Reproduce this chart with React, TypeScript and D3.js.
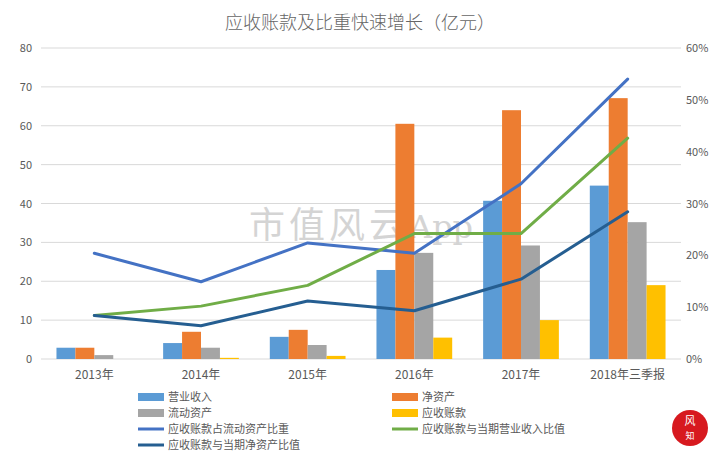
import { useEffect, useRef } from 'react'
import * as d3 from 'd3'

const categories = ['2013年', '2014年', '2015年', '2016年', '2017年', '2018年三季报']

const revenue = [2.9, 4.1, 5.7, 22.9, 40.7, 44.6] // 营业收入
const netAssets = [2.9, 7.0, 7.5, 60.5, 64.0, 67.1] // 净资产
const currentAssets = [1.0, 2.9, 3.6, 27.3, 29.2, 35.2] // 流动资产
const receivables = [0, 0.3, 0.8, 5.5, 10.0, 19.0] // 应收账款

const ratioCurrent = [0.204, 0.149, 0.224, 0.204, 0.338, 0.54] // 应收账款占流动资产比重
const ratioRevenue = [0.084, 0.102, 0.142, 0.242, 0.242, 0.426] // 应收账款与当期营业收入比值
const ratioNet = [0.084, 0.064, 0.112, 0.093, 0.154, 0.284] // 应收账款与当期净资产比值

const leftTicks = [0, 10, 20, 30, 40, 50, 60, 70, 80]
const rightTicks = [0, 0.1, 0.2, 0.3, 0.4, 0.5, 0.6]

const barSeries = [
  { name: '营业收入', values: revenue, color: '#5B9BD5' },
  { name: '净资产', values: netAssets, color: '#ED7D31' },
  { name: '流动资产', values: currentAssets, color: '#A5A5A5' },
  { name: '应收账款', values: receivables, color: '#FFC000' },
]

const lineSeries = [
  { name: '应收账款占流动资产比重', values: ratioCurrent, color: '#4472C4' },
  { name: '应收账款与当期营业收入比值', values: ratioRevenue, color: '#70AD47' },
  { name: '应收账款与当期净资产比值', values: ratioNet, color: '#255E91' },
]

// legend order as in the picture (two columns)
const legendItems = [
  { ...barSeries[0], kind: 'bar' },
  { ...barSeries[1], kind: 'bar' },
  { ...barSeries[2], kind: 'bar' },
  { ...barSeries[3], kind: 'bar' },
  { ...lineSeries[0], kind: 'line' },
  { ...lineSeries[1], kind: 'line' },
  { ...lineSeries[2], kind: 'line' },
]

const FONT = '"Noto Sans CJK SC", "Noto Sans", sans-serif'
const TEXT = '#595959'

export default function App() {
  const svgRef = useRef<SVGSVGElement>(null)

  useEffect(() => {
    document.body.style.margin = '0'
    const svg = d3.select(svgRef.current)
    svg.selectAll('*').remove()

    const W = 720
    const H = 454
    const left = 41
    const right = 681
    const top = 48
    const bottom = 359

    svg.attr('width', W).attr('height', H).style('display', 'block')
    svg.append('rect').attr('width', W).attr('height', H).attr('fill', '#fff')

    const x0 = d3.scaleBand<string>().domain(categories).range([left, right]).paddingInner(0.29).paddingOuter(0.145)
    const x1 = d3.scaleBand<string>().domain(barSeries.map((s) => s.name)).range([0, x0.bandwidth()])
    const yL = d3.scaleLinear().domain([0, 80]).range([bottom, top])
    const yR = d3.scaleLinear().domain([0, 0.6]).range([bottom, top])

    // Title
    svg.append('text')
      .attr('x', W / 2)
      .attr('y', 29)
      .attr('text-anchor', 'middle')
      .attr('fill', '#666')
      .style('font-family', FONT)
      .style('font-size', '18px')
      .style('font-weight', 300)
      .text('应收账款及比重快速增长（亿元）')

    // Grid lines
    svg.selectAll('.grid')
      .data(leftTicks)
      .enter()
      .append('line')
      .attr('x1', left)
      .attr('x2', right)
      .attr('y1', (d) => yL(d))
      .attr('y2', (d) => yL(d))
      .attr('stroke', '#d9d9d9')
      .attr('stroke-width', 1)

    // Left axis labels
    svg.selectAll('.ytl')
      .data(leftTicks)
      .enter()
      .append('text')
      .attr('x', 32)
      .attr('y', (d) => yL(d) + 4)
      .attr('text-anchor', 'end')
      .attr('fill', TEXT)
      .style('font-family', FONT)
      .style('font-size', '11px')
      .text((d) => `${d}`)

    // Right axis labels
    svg.selectAll('.ytr')
      .data(rightTicks)
      .enter()
      .append('text')
      .attr('x', 686)
      .attr('y', (d) => yR(d) + 4)
      .attr('fill', TEXT)
      .style('font-family', FONT)
      .style('font-size', '11px')
      .text((d) => d3.format('.0%')(d))

    // Watermark
    const wm = svg.append('text')
      .attr('x', 249)
      .attr('y', 238)
      .attr('fill', '#d4d4d4')
      .style('font-family', '"DejaVu Serif", "Noto Sans CJK SC", serif')
      .style('font-size', '36px')
    wm.append('tspan').attr('letter-spacing', '4px').text('市值风云')
    wm.append('tspan').style('font-size', '32px').text('App')

    // Bars
    barSeries.forEach((s) => {
      svg.selectAll(`.bar-${s.name}`)
        .data(s.values)
        .enter()
        .append('rect')
        .attr('x', (_, i) => (x0(categories[i]) ?? 0) + (x1(s.name) ?? 0))
        .attr('y', (d) => yL(d))
        .attr('width', x1.bandwidth())
        .attr('height', (d) => bottom - yL(d))
        .attr('fill', s.color)
    })

    // Lines
    const cx = (i: number) => (x0(categories[i]) ?? 0) + x0.bandwidth() / 2
    lineSeries.forEach((s) => {
      const lineGen = d3.line<number>().x((_, i) => cx(i)).y((d) => yR(d))
      svg.append('path')
        .datum(s.values)
        .attr('fill', 'none')
        .attr('stroke', s.color)
        .attr('stroke-width', 3)
        .attr('stroke-linejoin', 'round')
        .attr('stroke-linecap', 'round')
        .attr('d', lineGen)
    })

    // X labels
    svg.selectAll('.xl')
      .data(categories)
      .enter()
      .append('text')
      .attr('x', (d) => (x0(d) ?? 0) + x0.bandwidth() / 2)
      .attr('y', 379)
      .attr('text-anchor', 'middle')
      .attr('fill', TEXT)
      .style('font-family', FONT)
      .style('font-size', '12px')
      .text((d) => d)

    // Legend
    const colX = [138, 392]
    const rowY = [397, 413, 429, 445]
    const pos = [
      [0, 0], [1, 0], [0, 1], [1, 1], [0, 2], [1, 2], [0, 3],
    ]
    legendItems.forEach((item, i) => {
      const [c, r] = pos[i]
      const lx = colX[c]
      const ly = rowY[r]
      if (item.kind === 'bar') {
        svg.append('rect')
          .attr('x', lx)
          .attr('y', ly - 4)
          .attr('width', 26)
          .attr('height', 8)
          .attr('fill', item.color)
      } else {
        svg.append('line')
          .attr('x1', lx)
          .attr('x2', lx + 26)
          .attr('y1', ly)
          .attr('y2', ly)
          .attr('stroke', item.color)
          .attr('stroke-width', 3)
      }
      svg.append('text')
        .attr('x', lx + 30)
        .attr('y', ly + 4)
        .attr('fill', TEXT)
        .style('font-family', FONT)
        .style('font-size', '11px')
        .text(item.name)
    })

    // Logo
    svg.append('circle').attr('cx', 690).attr('cy', 428).attr('r', 18).attr('fill', '#d7191f')
    svg.append('text')
      .attr('x', 690)
      .attr('y', 425)
      .attr('text-anchor', 'middle')
      .attr('fill', '#fff')
      .style('font-family', FONT)
      .style('font-size', '11px')
      .text('风')
    svg.append('text')
      .attr('x', 690)
      .attr('y', 439)
      .attr('text-anchor', 'middle')
      .attr('fill', '#fff')
      .style('font-family', FONT)
      .style('font-size', '9px')
      .text('知')
  }, [])

  return <svg ref={svgRef} />
}
